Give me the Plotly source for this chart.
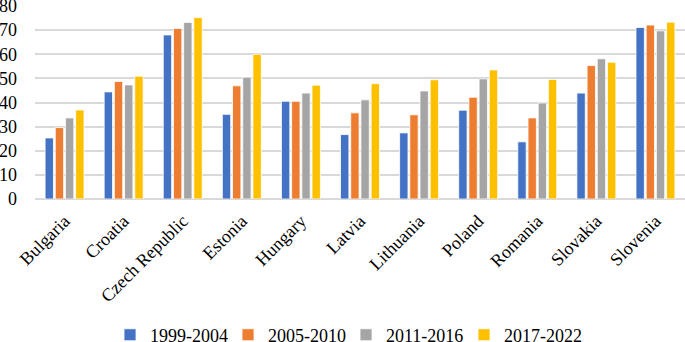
import plotly.graph_objects as go

countries = ["Bulgaria", "Croatia", "Czech Republic", "Estonia", "Hungary", "Latvia",
             "Lithuania", "Poland", "Romania", "Slovakia", "Slovenia"]
p1999_2004 = [25.3, 44.4, 68.0, 35.1, 40.5, 26.7, 27.4, 36.8, 23.7, 43.9, 71.1]
p2005_2010 = [29.6, 48.7, 70.7, 46.9, 40.5, 35.7, 34.9, 42.2, 33.6, 55.3, 72.1]
p2011_2016 = [33.6, 47.3, 73.2, 50.5, 43.9, 41.1, 44.8, 49.8, 39.8, 58.1, 69.7]
p2017_2022 = [36.9, 50.9, 75.2, 60.0, 47.2, 47.8, 49.4, 53.5, 49.5, 56.7, 73.3]
series_names = ["1999-2004", "2005-2010", "2011-2016", "2017-2022"]
colors = ["#4472C4", "#ED7D31", "#A5A5A5", "#FFC000"]
y_ticks = [0, 10, 20, 30, 40, 50, 60, 70, 80]

fig = go.Figure()
for name, vals, c in zip(series_names, [p1999_2004, p2005_2010, p2011_2016, p2017_2022], colors):
    fig.add_trace(go.Bar(x=countries, y=vals, name=name,
                         marker=dict(color=c, line=dict(color="white", width=0.8))))

font = "Liberation Serif, Times New Roman, serif"
fig.update_layout(
    width=685, height=342,
    margin=dict(l=35, r=0, t=6, b=143, autoexpand=False),
    paper_bgcolor="white", plot_bgcolor="white",
    barmode="group", bargap=0.31, bargroupgap=0.18,
    font=dict(family=font, size=18, color="black"),
    showlegend=True,
    legend=dict(orientation="h", x=0.4785, xanchor="center", y=-0.705, yanchor="middle",
                font=dict(family=font, size=18), itemwidth=30, traceorder="normal",
                entrywidth=73, entrywidthmode="pixels"),
    xaxis=dict(tickangle=-45, showgrid=False, showline=False, ticks="", automargin=False,
               ticklabelstandoff=7,
               tickfont=dict(family=font, size=18)),
    yaxis=dict(range=[0, 80], tickvals=y_ticks, showgrid=True, gridcolor="#D9D9D9",
               gridwidth=1.8, zeroline=True, zerolinecolor="#D9D9D9", zerolinewidth=1.8,
               showline=False, ticks="", ticklabelstandoff=17, automargin=False,
               ticklabeloverflow="allow",
               tickfont=dict(family=font, size=18)),
)

fig.write_html("out.html", config={"displayModeBar": False},
               post_script="document.body.style.margin='0';")
